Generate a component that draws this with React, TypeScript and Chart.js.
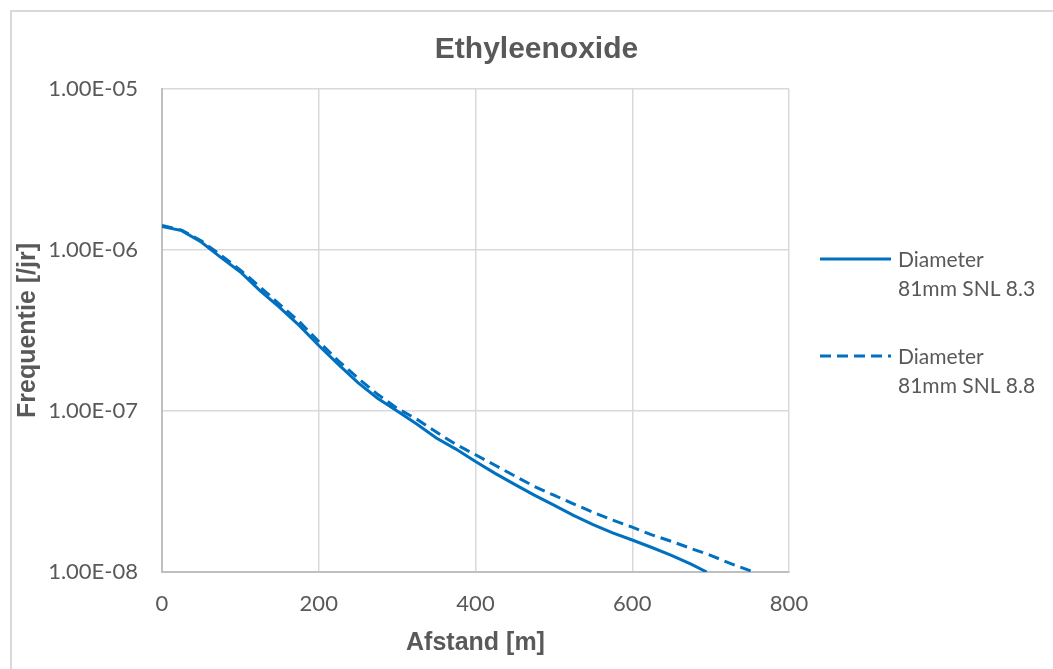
import React, { useEffect, useRef } from "react";
import { Chart, registerables } from "chart.js";

Chart.register(...registerables);

// ---- Data ----
const chartTitle = "Ethyleenoxide";
const xAxisTitle = "Afstand [m]";
const yAxisTitle = "Frequentie [/jr]";

const seriesNames = ["Diameter\n81mm SNL 8.3", "Diameter\n81mm SNL 8.8"];

const distancesA = [0, 25, 50, 75, 100, 125, 150, 175, 200, 225, 250, 275, 300, 325, 350, 375, 400, 425, 450, 475, 500, 525, 550, 575, 600, 625, 650, 675, 695];
const frequencyA = [1.4e-6, 1.32e-6, 1.12e-6, 9.0e-7, 7.3e-7, 5.6e-7, 4.4e-7, 3.4e-7, 2.55e-7, 1.95e-7, 1.5e-7, 1.2e-7, 1.0e-7, 8.3e-8, 6.8e-8, 5.8e-8, 4.85e-8, 4.1e-8, 3.5e-8, 3.0e-8, 2.6e-8, 2.25e-8, 1.97e-8, 1.75e-8, 1.58e-8, 1.42e-8, 1.27e-8, 1.12e-8, 1.0e-8];

const distancesB = [0, 25, 50, 75, 100, 125, 150, 175, 200, 225, 250, 275, 300, 325, 350, 375, 400, 425, 450, 475, 500, 525, 550, 575, 600, 625, 650, 675, 700, 725, 755];
const frequencyB = [1.42e-6, 1.33e-6, 1.14e-6, 9.3e-7, 7.5e-7, 5.9e-7, 4.6e-7, 3.6e-7, 2.7e-7, 2.05e-7, 1.6e-7, 1.27e-7, 1.04e-7, 8.9e-8, 7.4e-8, 6.2e-8, 5.35e-8, 4.6e-8, 3.95e-8, 3.4e-8, 3.0e-8, 2.65e-8, 2.35e-8, 2.1e-8, 1.9e-8, 1.7e-8, 1.55e-8, 1.4e-8, 1.27e-8, 1.13e-8, 1.0e-8];

const yTickValues = [1e-8, 1e-7, 1e-6, 1e-5];
const yTickLabels = ["1.00E-08", "1.00E-07", "1.00E-06", "1.00E-05"];
const xMin = 0;
const xMax = 800;
const xStep = 200;

const BLUE = "#0070C0";
const TEXT = "#595959";
const DASH = [11, 6];

const titlePlugin = {
  id: "centerTitle",
  afterDraw(chart: any) {
    const ctx = chart.ctx as CanvasRenderingContext2D;
    ctx.save();
    ctx.font = "bold 30px 'Liberation Sans', Arial";
    ctx.fillStyle = TEXT;
    ctx.textAlign = "center";
    ctx.textBaseline = "middle";
    ctx.fillText(chartTitle, chart.width / 2 + 10, 49.5);
    ctx.restore();
  },
};

const legendPlugin = {
  id: "sideLegend",
  afterDraw(chart: any) {
    const ctx = chart.ctx as CanvasRenderingContext2D;
    const area = chart.chartArea;
    ctx.save();
    ctx.font = "21px Lato";
    ctx.fillStyle = TEXT;
    ctx.textBaseline = "middle";
    ctx.textAlign = "left";
    const startY = [259, 356];
    chart.data.datasets.forEach((ds: any, i: number) => {
      const y = startY[i];
      const x0 = area.right + 31;
      const x1 = area.right + 102;
      ctx.strokeStyle = ds.borderColor;
      ctx.lineWidth = ds.borderWidth;
      ctx.setLineDash(ds.borderDash || []);
      ctx.beginPath();
      ctx.moveTo(x0, y);
      ctx.lineTo(x1, y);
      ctx.stroke();
      ctx.setLineDash([]);
      const lines = String(ds.label).split("\n");
      lines.forEach((ln, j) => {
        ctx.fillText(ln, area.right + 109, y + 1 + j * 29);
      });
    });
    ctx.restore();
  },
};

export default function App() {
  const ref = useRef<HTMLCanvasElement>(null);

  useEffect(() => {
    if (!ref.current) return;
    const chart = new Chart(ref.current, {
      type: "line",
      data: {
        datasets: [
          {
            label: seriesNames[0],
            data: distancesA.map((x, i) => ({ x, y: frequencyA[i] })),
            borderColor: BLUE,
            borderWidth: 3,
            pointRadius: 0,
            tension: 0,
            fill: false,
          },
          {
            label: seriesNames[1],
            data: distancesB.map((x, i) => ({ x, y: frequencyB[i] })),
            borderColor: BLUE,
            borderWidth: 3,
            borderDash: DASH,
            pointRadius: 0,
            tension: 0,
            fill: false,
          },
        ],
      },
      options: {
        animation: false,
        responsive: false,
        maintainAspectRatio: false,
        layout: { padding: { left: 0, right: 264, top: 89, bottom: 0 } },
        plugins: {
          legend: { display: false },
          tooltip: { enabled: false },
          title: { display: false },
        },
        scales: {
          x: {
            type: "linear",
            min: xMin,
            max: xMax,
            ticks: {
              stepSize: xStep,
              color: TEXT,
              padding: 19,
              font: { family: "Lato", size: 22 },
              maxRotation: 0,
            },
            grid: { color: "#d9d9d9", lineWidth: 1.5, drawTicks: false },
            border: { color: "#bfbfbf", width: 2 },
            title: {
              display: true,
              text: xAxisTitle,
              color: TEXT,
              font: { family: "'Liberation Sans', Arial", size: 25, weight: "bold" },
              padding: { top: 0, bottom: 11 },
            },
            afterFit: (s: any) => {
              s.height = 97;
            },
          },
          y: {
            type: "logarithmic",
            min: yTickValues[0],
            max: yTickValues[yTickValues.length - 1],
            afterBuildTicks: (s: any) => {
              s.ticks = yTickValues.map((v) => ({ value: v }));
            },
            ticks: {
              color: TEXT,
              padding: 24,
              font: { family: "Lato", size: 22 },
              callback: (_v: any, i: number) => yTickLabels[i],
            },
            grid: { color: "#d9d9d9", lineWidth: 1.5, drawTicks: false },
            border: { color: "#bfbfbf", width: 2 },
            title: {
              display: true,
              text: yAxisTitle,
              color: TEXT,
              font: { family: "'Liberation Sans', Arial", size: 25, weight: "bold" },
              padding: { top: 13, bottom: 0 },
            },
            afterFit: (s: any) => {
              s.width = 162;
            },
          },
        },
      },
      plugins: [titlePlugin, legendPlugin],
    });
    return () => chart.destroy();
  }, []);

  return (
    <>
      <div
        style={{
          position: "fixed",
          left: 10,
          top: 10,
          width: 2000,
          height: 2000,
          borderLeft: "2px solid #d9d9d9",
          borderTop: "2px solid #d9d9d9",
          background: "#fff",
        }}
      />
      <canvas
        ref={ref}
        width={1053}
        height={669}
        style={{ position: "fixed", left: 0, top: 0, width: 1053, height: 669 }}
      />
    </>
  );
}
